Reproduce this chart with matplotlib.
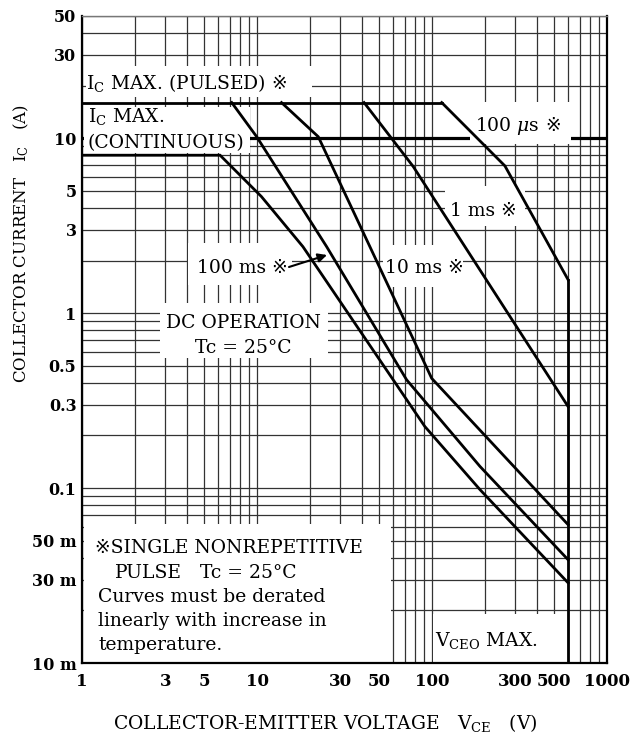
import matplotlib
matplotlib.use('Agg')
import matplotlib.pyplot as plt
from matplotlib.patches import Rectangle
from matplotlib.ticker import FixedLocator, FixedFormatter, LogLocator, NullFormatter

plt.rcParams['font.family'] = ['DejaVu Serif', 'DejaVu Sans', 'Noto Sans CJK JP']
plt.rcParams['mathtext.fontset'] = 'dejavuserif'

# ---------------- data (V, A) ----------------
pulsed_v = [1, 113.6]
pulsed_i = [16, 16]
cont_v = [1, 1000]
cont_i = [10, 10]
dc_v = [1, 6.15, 10.6, 18.3, 91, 188, 600]
dc_i = [8, 8, 4.64, 2.40, 0.225, 0.098, 0.0287]
ms100_v = [7.17, 9.96, 25.0, 71.6, 188, 600]
ms100_i = [16, 10.2, 2.40, 0.416, 0.133, 0.0389]
ms10_v = [13.8, 22.4, 99.6, 600]
ms10_i = [16, 10.2, 0.424, 0.0617]
ms1_v = [40.9, 78.2, 600]
ms1_i = [16, 6.88, 0.292]
us100_v = [113.6, 261, 600]
us100_i = [16, 6.95, 1.55]
vceo_v = [600, 600]
vceo_i = [1.55, 0.01]

xticks = [1, 3, 5, 10, 30, 50, 100, 300, 500, 1000]
xticklabels = ['1', '3', '5', '10', '30', '50', '100', '300', '500', '1000']
yticks = [0.01, 0.03, 0.05, 0.1, 0.3, 0.5, 1, 3, 5, 10, 30, 50]
yticklabels = ['10 m', '30 m', '50 m', '0.1', '0.3', '0.5', '1', '3', '5', '10', '30', '50']

# ---------------- figure ----------------
W, H = 642, 738
fig = plt.figure(figsize=(W / 100, H / 100), dpi=100)
AX_L, AX_R, AX_T, AX_B = 82, 607, 16, 663
ax = fig.add_axes([AX_L / W, 1 - AX_B / H, (AX_R - AX_L) / W, (AX_B - AX_T) / H])


def A(px, py):
    return ((px - AX_L) / (AX_R - AX_L), (AX_B - py) / (AX_B - AX_T))


ax.set_xscale('log')
ax.set_yscale('log')
ax.set_xlim(1, 1000)
ax.set_ylim(0.01, 50)
ax.xaxis.set_major_locator(FixedLocator(xticks))
ax.xaxis.set_major_formatter(FixedFormatter(xticklabels))
ax.yaxis.set_major_locator(FixedLocator(yticks))
ax.yaxis.set_major_formatter(FixedFormatter(yticklabels))
for axis in (ax.xaxis, ax.yaxis):
    axis.set_minor_locator(LogLocator(base=10, subs=range(1, 10), numticks=30))
    axis.set_minor_formatter(NullFormatter())
ax.tick_params(which='both', length=0)
ax.tick_params(axis='x', pad=7, labelsize=12)
ax.tick_params(axis='y', pad=4, labelsize=11.5)
for lab in ax.get_xticklabels() + ax.get_yticklabels():
    lab.set_fontweight('bold')
ax.set_axisbelow(True)
ax.grid(True, which='both', color='#333333', lw=0.9)
for s in ax.spines.values():
    s.set_linewidth(1.6)
    s.set_color('black')
ax.spines['top'].set_linewidth(1.0)
ax.spines['top'].set_color('#777777')

# white label boxes (reference pixel frames)
boxes = [
    (86, 66, 312, 97),
    (84, 107, 250, 153),
    (470, 102, 571, 144),
    (445, 186, 525, 226),
    (383, 245, 463, 287),
    (188, 243, 292, 285),
    (160, 303, 328, 358),
    (84, 524, 391, 662),
    (433, 614, 566, 662),
]
for x0, y0, x1, y1 in boxes:
    xa0, ya0 = A(x0, y1)
    xa1, ya1 = A(x1, y0)
    ax.add_patch(Rectangle((xa0, ya0), xa1 - xa0, ya1 - ya0, transform=ax.transAxes,
                           fc='white', ec='none', zorder=1.5))

LW = 2.0
ax.plot(cont_v, cont_i, color='black', lw=LW + 0.3, zorder=1.2, solid_capstyle='butt')
for v, i in [(pulsed_v, pulsed_i), (dc_v, dc_i), (ms100_v, ms100_i), (ms10_v, ms10_i),
             (ms1_v, ms1_i), (us100_v, us100_i), (vceo_v, vceo_i)]:
    ax.plot(v, i, color='black', lw=LW, zorder=3, solid_joinstyle='miter')

FS = 13.5


def put(px, py, s, size=FS, ha='left'):
    return ax.text(*A(px, py), s, transform=ax.transAxes, ha=ha, va='baseline',
                   fontsize=size, zorder=4)


def put_after(prev, py, s, size=FS):
    return ax.annotate(s, xy=(1, A(0, py)[1]), xycoords=(prev, 'axes fraction'),
                       ha='left', va='baseline', fontsize=size, zorder=4)


t = put(86, 89, r'I$_{\rm C}$ MAX. (PULSED)')
put_after(t, 89, ' ※')
put(88, 122, r'I$_{\rm C}$ MAX.')
put(88, 148, '(CONTINUOUS)')
t = put(475, 131, r'100 $\mu$s')
put_after(t, 131, ' ※')
put(450, 216, '1 ms ※')
put(385, 273, '10 ms ※')
put(197, 273, '100 ms ※')
put(243, 328, 'DC OPERATION', ha='center')
put(243, 353, 'Tc = 25°C', ha='center')
put(95, 553, '※SINGLE NONREPETITIVE')
put(115, 578, 'PULSE')
put(200, 578, 'Tc = 25°C')
put(98, 602, 'Curves must be derated')
put(98, 626, 'linearly with increase in')
put(98, 650, 'temperature.')
put(435, 646, r'V$_{\rm CEO}$ MAX.')

ax.annotate('', xy=A(327, 255), xytext=A(289, 267), xycoords='axes fraction',
            arrowprops=dict(arrowstyle='-|>', color='black', lw=1.5, mutation_scale=13,
                            shrinkA=0, shrinkB=0), zorder=4)

fig.text(113 / W, 1 - 729 / H, r'COLLECTOR-EMITTER VOLTAGE   V$_{\rm CE}$   (V)',
         ha='left', va='baseline', fontsize=13.5)
fig.text(21 / W, 1 - 383 / H, r'COLLECTOR CURRENT   I$_{\rm C}$   (A)',
         rotation=90, ha='center', va='bottom', fontsize=12)

fig.savefig('out.png', dpi=100, facecolor='white')
